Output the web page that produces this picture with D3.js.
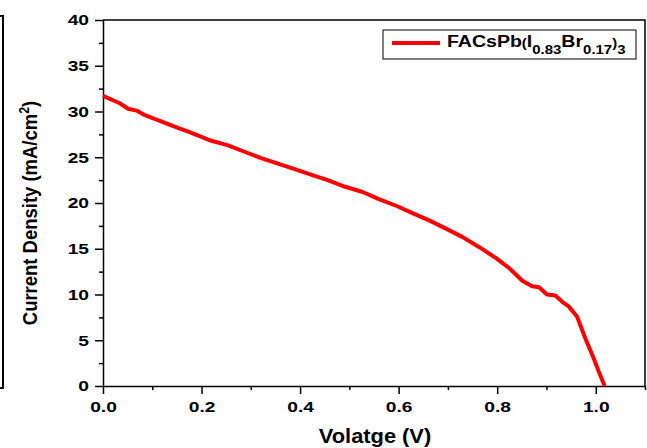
<!DOCTYPE html>
<html>
<head>
  <script src="https://d3js.org/d3.v7.min.js"></script>
  <style>
    body { margin: 0; background: #fff; }
    text { font-family: "Liberation Sans", Arial, sans-serif; font-weight: bold; fill: #000; }
  </style>
</head>
<body>
  <div id="svgcontainer"></div>
  <script>
    // J-V curve
    var voltage = [0, 0.034, 0.051, 0.068, 0.085, 0.119, 0.152, 0.173, 0.22, 0.254, 0.287, 0.321, 0.355, 0.389,
      0.422, 0.456, 0.49, 0.527, 0.561, 0.595, 0.628, 0.662, 0.696, 0.729, 0.763, 0.797, 0.824, 0.851,
      0.871, 0.885, 0.901, 0.918, 0.932, 0.945, 0.962, 0.979, 0.996, 1.006, 1.018];
    var current = [31.7, 30.9, 30.3, 30.1, 29.6, 28.9, 28.2, 27.8, 26.8, 26.3, 25.6, 24.9, 24.3, 23.7,
      23.1, 22.5, 21.8, 21.2, 20.4, 19.7, 18.9, 18.1, 17.2, 16.3, 15.2, 14.0, 12.9, 11.5,
      10.9, 10.8, 10.0, 9.9, 9.2, 8.7, 7.6, 5.2, 3.0, 1.6, 0];
    var xTicks = [0, 0.2, 0.4, 0.6, 0.8, 1.0];
    var yTicks = [0, 5, 10, 15, 20, 25, 30, 35, 40];

    var width = 647, height = 448;
    var margin = { top: 20, right: 2, bottom: 62, left: 103 };

    var svg = d3.select("#svgcontainer").append("svg")
      .attr("width", width).attr("height", height);

    var x = d3.scaleLinear().domain([0, 1.1]).range([margin.left, width - margin.right]);
    var y = d3.scaleLinear().domain([0, 40]).range([height - margin.bottom, margin.top]);

    // the picture text is wider than normal Arial, so stretch it around its anchor
    function stretch(sel, sx) {
      sel.each(function () {
        var ax = +d3.select(this).attr("x") || 0;
        d3.select(this).attr("transform",
          "translate(" + ax + ",0) scale(" + sx + ",1) translate(" + (-ax) + ",0)");
      });
    }

    // leftover frame of neighbouring panel
    svg.append("path")
      .attr("d", "M0,16 H3 V388 H0")
      .attr("fill", "none").attr("stroke", "#000").attr("stroke-width", 2);

    // top and right border
    svg.append("path")
      .attr("d", "M" + x(0) + "," + y(40) + " H" + x(1.1) + " V" + y(0))
      .attr("fill", "none").attr("stroke", "#000").attr("stroke-width", 1.5);

    // minor ticks
    var xMinor = d3.range(0.1, 1.15, 0.2);
    svg.append("g").attr("transform", "translate(0," + y(0) + ")")
      .call(d3.axisBottom(x).tickValues(xMinor).tickSize(4).tickFormat(""))
      .call(g => g.select(".domain").remove())
      .selectAll("line").attr("stroke-width", 1.5);
    var yMinor = d3.range(2.5, 40, 5);
    svg.append("g").attr("transform", "translate(" + x(0) + ",0)")
      .call(d3.axisLeft(y).tickValues(yMinor).tickSize(4).tickFormat(""))
      .call(g => g.select(".domain").remove())
      .selectAll("line").attr("stroke-width", 1.5);

    // main axes
    var xAxis = svg.append("g").attr("transform", "translate(0," + y(0) + ")")
      .call(d3.axisBottom(x).tickValues(xTicks).tickSize(8).tickSizeOuter(0).tickPadding(7).tickFormat(d3.format(".1f")));
    var yAxis = svg.append("g").attr("transform", "translate(" + x(0) + ",0)")
      .call(d3.axisLeft(y).tickValues(yTicks).tickSize(8).tickSizeOuter(0).tickPadding(6).tickFormat(d3.format("d")));
    [xAxis, yAxis].forEach(function (g) {
      g.select(".domain").attr("stroke-width", 1.5);
      g.selectAll("line").attr("stroke-width", 1.5);
      g.selectAll("text").style("font-size", "15px").style("font-family", "'Liberation Sans', Arial, sans-serif")
        .style("font-weight", "bold");
      stretch(g.selectAll("text"), 1.28);
    });

    // curve
    var data = voltage.map((v, i) => ({ v: v, j: current[i] }));
    svg.append("path")
      .datum(data)
      .attr("fill", "none")
      .attr("stroke", "#ff0000")
      .attr("stroke-width", 4)
      .attr("stroke-linejoin", "round")
      .attr("d", d3.line().x(d => x(d.v)).y(d => y(d.j)));

    // axis titles
    var xt = svg.append("text")
      .attr("x", 375).attr("y", 443)
      .attr("text-anchor", "middle")
      .style("font-size", "19.5px")
      .text("Volatge (V)");
    stretch(xt, 1.12);

    var yt = svg.append("text")
      .attr("transform", "translate(36.5,213) rotate(-90) scale(0.88,1)")
      .attr("text-anchor", "middle")
      .style("font-size", "21px");
    yt.append("tspan").text("Current Density (mA/cm");
    yt.append("tspan").attr("dy", -8).style("font-size", "14px").text("2");
    yt.append("tspan").attr("dy", 8).text(")");

    // legend
    svg.append("rect")
      .attr("x", 383).attr("y", 30).attr("width", 253).attr("height", 29)
      .attr("fill", "#fff").attr("stroke", "#000").attr("stroke-width", 1);
    svg.append("line")
      .attr("x1", 392).attr("x2", 440).attr("y1", 43).attr("y2", 43)
      .attr("stroke", "#ff0000").attr("stroke-width", 4);
    var lg = svg.append("text").attr("x", 447).attr("y", 47).style("font-size", "17px");
    lg.append("tspan").text("FACsPb");
    lg.append("tspan").style("font-size", "13px").text("(");
    lg.append("tspan").text("I");
    lg.append("tspan").attr("dy", 7).style("font-size", "13px").text("0.83");
    lg.append("tspan").attr("dy", -7).text("Br");
    lg.append("tspan").attr("dy", 7).style("font-size", "13px").text("0.17");
    lg.append("tspan").attr("dy", -7).style("font-size", "13px").text(")");
    lg.append("tspan").attr("dy", 7).style("font-size", "13px").text("3");
    stretch(lg, 1.15);
  </script>
</body>
</html>
